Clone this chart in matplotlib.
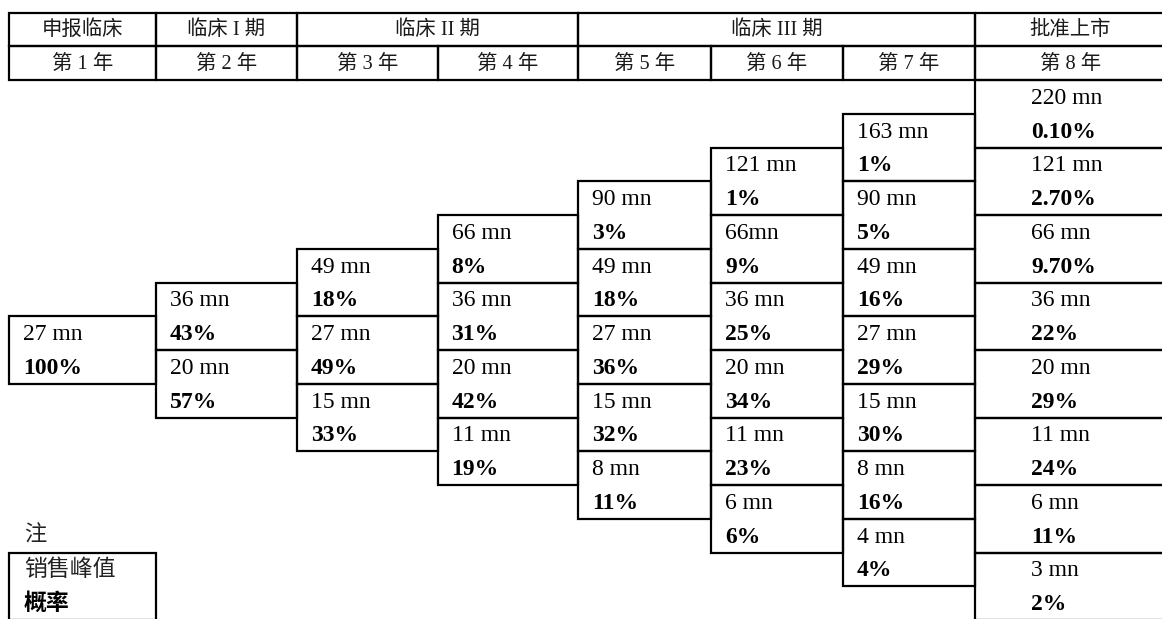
import matplotlib
matplotlib.use("Agg")
import matplotlib.pyplot as plt
from matplotlib.patches import Rectangle

plt.rcParams['font.family'] = ['Liberation Serif', 'Noto Sans CJK SC']

# --- datos ---
fases = ['申报临床', '临床 I 期', '临床 II 期', '临床 III 期', '批准上市']
fase_cols = [(0, 1), (1, 2), (2, 4), (4, 7), (7, 8)]   # columnas que abarca cada fase
anios = ['第 1 年', '第 2 年', '第 3 年', '第 4 年', '第 5 年', '第 6 年', '第 7 年', '第 8 年']

ventas = [
    ['27 mn'],
    ['36 mn', '20 mn'],
    ['49 mn', '27 mn', '15 mn'],
    ['66 mn', '36 mn', '20 mn', '11 mn'],
    ['90 mn', '49 mn', '27 mn', '15 mn', '8 mn'],
    ['121 mn', '66mn', '36 mn', '20 mn', '11 mn', '6 mn'],
    ['163 mn', '90 mn', '49 mn', '27 mn', '15 mn', '8 mn', '4 mn'],
    ['220 mn', '121 mn', '66 mn', '36 mn', '20 mn', '11 mn', '6 mn', '3 mn'],
]
probs = [
    ['100%'],
    ['43%', '57%'],
    ['18%', '49%', '33%'],
    ['8%', '31%', '42%', '19%'],
    ['3%', '18%', '36%', '32%', '11%'],
    ['1%', '9%', '25%', '34%', '23%', '6%'],
    ['1%', '5%', '16%', '29%', '30%', '16%', '4%'],
    ['0.10%', '2.70%', '9.70%', '22%', '29%', '24%', '11%', '2%'],
]
nota = '注'
nota_lineas = ['销售峰值', '概率']

# --- layout (pixeles) ---
W, H = 1162, 619
bordes = [9, 156, 297, 437.5, 578, 711, 843, 975, 1166]
y_top, y_mid, y0 = 12.5, 46, 80
h = 33.75
lw = 1.6
fs = 17          # cuerpo
fs_enc = 14.7    # encabezado

fig = plt.figure(figsize=(W / 100, H / 100), dpi=100)
ax = fig.add_axes([0, 0, 1, 1])
ax.set_xlim(0, W)
ax.set_ylim(H, 0)
ax.axis('off')


def caja(x0, x1, ya, yb):
    ax.add_patch(Rectangle((x0, ya), x1 - x0, yb - ya, fill=False,
                           edgecolor='black', linewidth=lw, joinstyle='miter'))


# encabezado fila 1: fases
for nombre, (c0, c1) in zip(fases, fase_cols):
    x0, x1 = bordes[c0], bordes[c1]
    caja(x0, x1 if c1 < 8 else W + 10, y_top, y_mid)
    ax.text((x0 + x1) / 2, (y_top + y_mid) / 2 + 1, nombre, ha='center', va='center',
            fontsize=fs_enc, color='#1a1a1a')

# encabezado fila 2: años
for i, a in enumerate(anios):
    x0, x1 = bordes[i], bordes[i + 1]
    caja(x0, x1 if i < 7 else W + 10, y_mid, y0)
    ax.text((x0 + x1) / 2, (y_mid + y0) / 2 + 1, a, ha='center', va='center',
            fontsize=fs_enc, color='#1a1a1a')

# arbol
for i in range(len(anios)):
    x0 = bordes[i]
    x1 = bordes[i + 1] if i < 7 else W + 10
    pad = 14 if i < 7 else 56
    inicio = 7 - i
    for j, (v, p) in enumerate(zip(ventas[i], probs[i])):
        ya = y0 + (inicio + 2 * j) * h
        caja(x0, x1, ya, ya + 2 * h)
        ax.text(x0 + pad, ya + h / 2 + 1.5, v, ha='left', va='center', fontsize=fs)
        ax.text(x0 + pad, ya + 1.5 * h + 1.5, p, ha='left', va='center', fontsize=fs,
                fontweight='bold')

# nota
ax.text(bordes[0] + 15, y0 + 13.5 * h + 1, nota, ha='left', va='center', fontsize=fs - 1,
        color='#222222')
caja(bordes[0], bordes[1], y0 + 14 * h, y0 + 16 * h)
ax.text(bordes[0] + 15, y0 + 14.5 * h + 1, nota_lineas[0], ha='left', va='center',
        fontsize=fs - 0.5, color='#222222')
ax.text(bordes[0] + 15, y0 + 15.5 * h + 1, nota_lineas[1], ha='left', va='center',
        fontsize=fs - 0.5, fontweight='bold')

fig.savefig('out.png', dpi=100)
